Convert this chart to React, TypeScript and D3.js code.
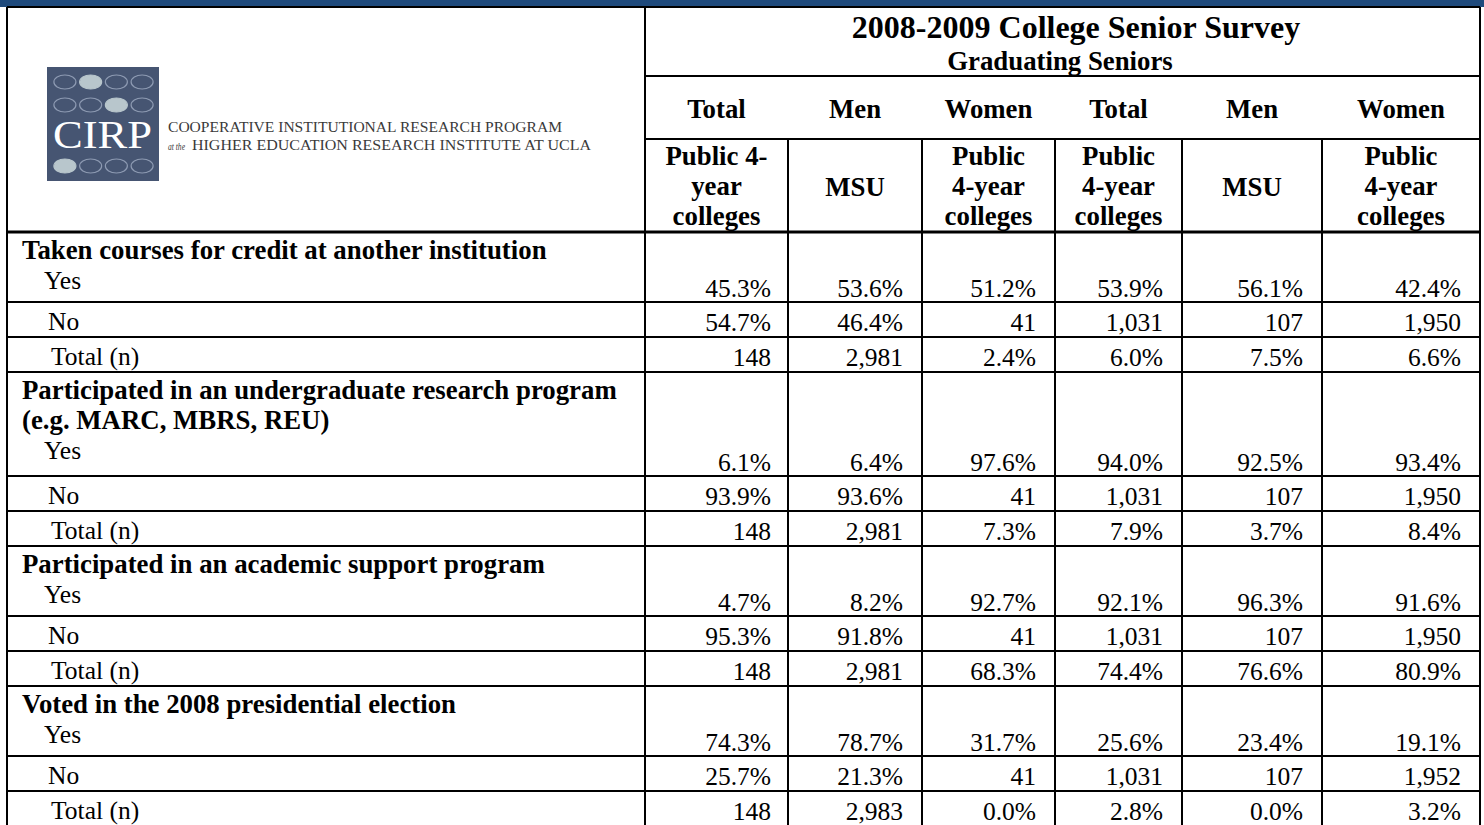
import React from "react";
import * as d3 from "d3";

// ---------- data ----------
const title = "2008-2009 College Senior Survey";
const subtitle = "Graduating Seniors";
const groupLabels = ["Total", "Men", "Women", "Total", "Men", "Women"];
const subLabels = [
  ["Public 4-", "year", "colleges"],
  ["MSU"],
  ["Public", "4-year", "colleges"],
  ["Public", "4-year", "colleges"],
  ["MSU"],
  ["Public", "4-year", "colleges"],
];
const questions = [
  ["Taken courses for credit at another institution"],
  ["Participated in an undergraduate research program", "(e.g. MARC, MBRS, REU)"],
  ["Participated in an academic support program"],
  ["Voted in the 2008 presidential election"],
];
const answerLabels = ["Yes", "No", "Total (n)"];
const yesValues = [
  ["45.3%", "53.6%", "51.2%", "53.9%", "56.1%", "42.4%"],
  ["6.1%", "6.4%", "97.6%", "94.0%", "92.5%", "93.4%"],
  ["4.7%", "8.2%", "92.7%", "92.1%", "96.3%", "91.6%"],
  ["74.3%", "78.7%", "31.7%", "25.6%", "23.4%", "19.1%"],
];
const noValues = [
  ["54.7%", "46.4%", "41", "1,031", "107", "1,950"],
  ["93.9%", "93.6%", "41", "1,031", "107", "1,950"],
  ["95.3%", "91.8%", "41", "1,031", "107", "1,950"],
  ["25.7%", "21.3%", "41", "1,031", "107", "1,952"],
];
const totalValues = [
  ["148", "2,981", "2.4%", "6.0%", "7.5%", "6.6%"],
  ["148", "2,981", "7.3%", "7.9%", "3.7%", "8.4%"],
  ["148", "2,981", "68.3%", "74.4%", "76.6%", "80.9%"],
  ["148", "2,983", "0.0%", "2.8%", "0.0%", "3.2%"],
];
const logoLine1 = "COOPERATIVE INSTITUTIONAL RESEARCH PROGRAM";
const logoLine2a = "at the";
const logoLine2b = "HIGHER EDUCATION RESEARCH INSTITUTE AT UCLA";
const logoFilled = [[0, 1], [1, 2], [2, 0]];

// ---------- layout ----------
const W = 1484;
const H = 825;
const FONT = "'Liberation Serif', 'Times New Roman', serif";
const left = 7;
const colEdges = [645, 788, 922, 1055, 1182, 1322, 1480];
const headerY = [7, 76, 139, 232];
const rowH = 35;
const lineGap = 30;
const blockH = (lines: number) => 70 + 34 * (lines - 1);
const BOLD = 26.8;
const REG = 25.5;

export default function App() {
  const cols = d3.pairs(colEdges);
  const xCenter = d3.scaleOrdinal<number, number>()
    .domain(d3.range(6))
    .range(cols.map(([a, b]) => (a + b) / 2));
  const xRight = d3.scaleOrdinal<number, number>()
    .domain(d3.range(6))
    .range(cols.map(([a, b], i) => b - (i === 0 ? 17 : 19)));

  const sectionHeights = questions.map((q) => blockH(q.length) + 2 * rowH);
  const sectionTops = [headerY[3], ...d3.cumsum(sectionHeights).map((s) => headerY[3] + s)];

  const hLines: { y: number; x1: number; x2: number; w: number }[] = [];
  hLines.push({ y: headerY[0], x1: left, x2: colEdges[6], w: 2 });
  hLines.push({ y: headerY[1], x1: colEdges[0], x2: colEdges[6], w: 2 });
  hLines.push({ y: headerY[2], x1: colEdges[0], x2: colEdges[6], w: 2 });
  hLines.push({ y: headerY[3], x1: left, x2: colEdges[6], w: 3 });

  const cells: React.ReactNode[] = [];
  questions.forEach((q, si) => {
    const top = sectionTops[si];
    const bh = blockH(q.length);
    const yEnd = top + bh;
    const noEnd = yEnd + rowH;
    const totEnd = noEnd + rowH;
    hLines.push({ y: yEnd, x1: left, x2: colEdges[6], w: 2 });
    hLines.push({ y: noEnd, x1: left, x2: colEdges[6], w: 2 });
    hLines.push({ y: totEnd, x1: left, x2: colEdges[6], w: 2 });
    q.forEach((line, li) => {
      cells.push(
        <text key={`q${si}-${li}`} x={22} y={top + 27 + lineGap * li} fontWeight="bold" fontSize={BOLD}>
          {line}
        </text>
      );
    });
    cells.push(
      <text key={`yes${si}`} x={44} y={top + 27 + lineGap * q.length} fontSize={REG}>{answerLabels[0]}</text>
    );
    cells.push(
      <text key={`no${si}`} x={48} y={yEnd + 28} fontSize={REG}>{answerLabels[1]}</text>
    );
    cells.push(
      <text key={`tot${si}`} x={51} y={noEnd + 28} fontSize={REG}>{answerLabels[2]}</text>
    );
    d3.range(6).forEach((c) => {
      cells.push(
        <text key={`yv${si}-${c}`} x={xRight(c)} y={yEnd - 5} textAnchor="end" fontSize={REG}>{yesValues[si][c]}</text>
      );
      cells.push(
        <text key={`nv${si}-${c}`} x={xRight(c)} y={yEnd + 29} textAnchor="end" fontSize={REG}>{noValues[si][c]}</text>
      );
      cells.push(
        <text key={`tv${si}-${c}`} x={xRight(c)} y={noEnd + 29} textAnchor="end" fontSize={REG}>{totalValues[si][c]}</text>
      );
    });
  });

  const bottom = sectionTops[sectionTops.length - 1];

  const ovalX = d3.scaleBand<number>().domain(d3.range(4)).range([51, 156]).padding(0.08);
  const ovalRows = [82, 105, 166];

  return (
    <svg
      width={W}
      height={H}
      style={{ position: "absolute", left: 0, top: 0, background: "#fff", fontFamily: FONT }}
    >
      <rect x={0} y={0} width={W} height={7} fill="#1f4a7c" />
      {/* logo */}
      <rect x={47} y={67} width={112} height={114} fill="#465572" />
      {ovalRows.map((cy, r) =>
        d3.range(4).map((c) => {
          const filled = logoFilled.some(([fr, fc]) => fr === r && fc === c);
          return (
            <ellipse
              key={`ov${r}-${c}`}
              cx={(ovalX(c) as number) + ovalX.bandwidth() / 2}
              cy={cy}
              rx={11}
              ry={7}
              fill={filled ? "#b8c6cc" : "none"}
              stroke={filled ? "#b8c6cc" : "#8e9bb3"}
              strokeWidth={1.2}
            />
          );
        })
      )}
      <text x={53} y={148} fill="#fff" fontSize={41} textLength={99} lengthAdjust="spacingAndGlyphs">CIRP</text>
      <text x={168} y={132} fill="#3a3a3a" fontSize={15} textLength={394} lengthAdjust="spacingAndGlyphs">{logoLine1}</text>
      <text x={168} y={150} fill="#3a3a3a" fontSize={11} fontStyle="italic" textLength={17} lengthAdjust="spacingAndGlyphs">{logoLine2a}</text>
      <text x={192} y={150} fill="#3a3a3a" fontSize={15} textLength={399} lengthAdjust="spacingAndGlyphs">{logoLine2b}</text>

      {/* header text */}
      <text x={1076} y={38} textAnchor="middle" fontWeight="bold" fontSize={32}>{title}</text>
      <text x={1060} y={70} textAnchor="middle" fontWeight="bold" fontSize={BOLD}>{subtitle}</text>
      {groupLabels.map((g, i) => (
        <text key={`g${i}`} x={xCenter(i)} y={118} textAnchor="middle" fontWeight="bold" fontSize={BOLD}>{g}</text>
      ))}
      {subLabels.map((lines, i) =>
        lines.map((l, li) => (
          <text
            key={`s${i}-${li}`}
            x={xCenter(i)}
            y={lines.length === 1 ? 196 : 165 + lineGap * li}
            textAnchor="middle"
            fontWeight="bold"
            fontSize={BOLD}
          >
            {l}
          </text>
        ))
      )}

      {cells}

      {/* grid */}
      <g stroke="#000">
        {hLines.map((l, i) => (
          <line key={`h${i}`} x1={l.x1} x2={l.x2} y1={l.y} y2={l.y} strokeWidth={l.w} />
        ))}
        <line x1={left} x2={left} y1={headerY[0]} y2={bottom + 2} strokeWidth={2} />
        {colEdges.map((x, i) => (
          <line key={`v${i}`} x1={x} x2={x} y1={i === 0 || i === 6 ? headerY[0] : headerY[2]} y2={bottom + 2} strokeWidth={2} />
        ))}
      </g>
    </svg>
  );
}
